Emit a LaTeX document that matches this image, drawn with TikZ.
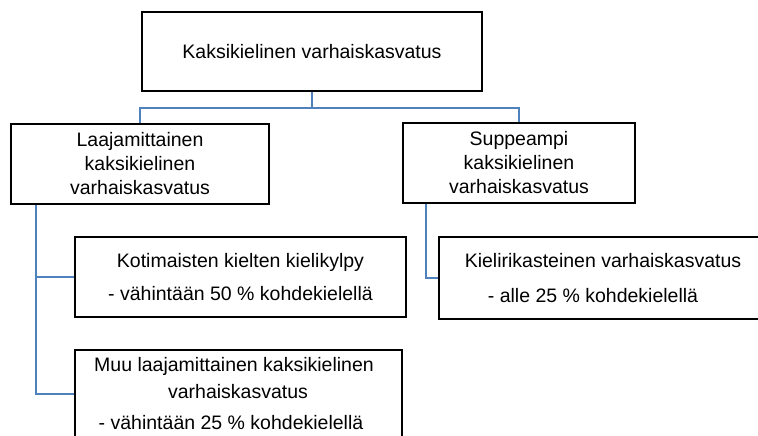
\documentclass[tikz,border=0pt]{standalone}
\usepackage{fontspec}
\setmainfont{Liberation Sans}
\definecolor{conblue}{HTML}{4F81BD}
\begin{document}
\begin{tikzpicture}[x=1pt,y=-1pt,
  font=\fontsize{19.5}{24}\selectfont,
  box/.style={draw=black, line width=2.5pt, rectangle, inner sep=0pt, align=center},
  txt/.style={inner sep=0pt, text height=14pt, text depth=4pt},
  conn/.style={draw=conblue, line width=2pt}]
\useasboundingbox (0,0) rectangle (758,436);
\fill[white] (0,0) rectangle (758,436);
\clip (0,0) rectangle (758,436);
% boxes
\node[box, minimum width=340pt, minimum height=79pt] (T) at (312,51.5) {Kaksikielinen varhaiskasvatus};
\node[box, minimum width=258pt, minimum height=80pt] (L1) at (140,164) {Laajamittainen\\kaksikielinen\\varhaiskasvatus};
\node[box, minimum width=232pt, minimum height=80pt] (R1) at (519,163) {Suppeampi\\kaksikielinen\\varhaiskasvatus};
\node[box, minimum width=331pt, minimum height=80pt] (K) at (240.5,277) {Kotimaisten kielten kielikylpy\\[9pt]- vähintään 50 \% kohdekielellä};
\node[box, minimum width=327pt, minimum height=120pt] (M) at (238.5,410) {};
\node[box, minimum width=340pt, minimum height=82pt] (KR) at (609,278) {};
% texts of cut boxes
\node[txt] (m1) at (234,366) {Muu laajamittainen kaksikielinen};
\node[txt] (m2) at (238,393) {varhaiskasvatus};
\node[txt] (m3) at (231,424) {- vähintään 25 \% kohdekielellä};
\node[txt] (kr1) at (603,262) {Kielirikasteinen varhaiskasvatus};
\node[txt] (kr2) at (593,297) {- alle 25 \% kohdekielellä};
% connectors
\draw[conn] (T.south) -- ++(0,16) -| (L1.north);
\draw[conn] (T.south) -- ++(0,16) -| (R1.north);
\draw[conn] ([xshift=26.4pt]L1.south west) |- (K.west);
\draw[conn] ([xshift=26.4pt]L1.south west) |- ([yshift=-45pt]M.north west);
\draw[conn] ([xshift=24pt]R1.south west) |- (KR.west);
\end{tikzpicture}
\end{document}
